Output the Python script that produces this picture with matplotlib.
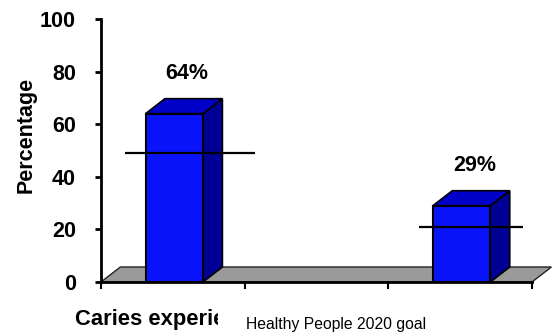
import matplotlib
matplotlib.use("Agg")
import matplotlib.pyplot as plt
from matplotlib.patches import Polygon
from matplotlib.transforms import Bbox

plt.rcParams["font.family"] = ["Liberation Sans", "DejaVu Sans"]

# chart data
categories = ["Caries experience", "Healthy People 2020 goal"]
bar_pos = [0.51, 2.51]
values = [64, 29]
goals = [49, 21]
goal_span = [(-0.34, 0.56), (-0.30, 0.43)]
yticks = [0, 20, 40, 60, 80, 100]

FRONT = "#0A14FA"
TOP = "#0000C8"
SIDE = "#000096"
FLOOR = "#9A9A9A"
W = 0.40      # bar width (data units)
DX = 0.135    # depth offset, x
DY = 5.7      # depth offset, y

fig = plt.figure(figsize=(5.54, 3.33), dpi=100)
ax = fig.add_axes([0.1823, 0.1532, 0.7780, 0.7898])
ax.set_xlim(0, 3)
ax.set_ylim(0, 100)

# floor
floor = Polygon([(0, 0), (3, 0), (3 + DX, DY), (DX, DY)], closed=True,
                facecolor=FLOOR, edgecolor="#222222", lw=1.0, zorder=1, clip_on=False)
ax.add_patch(floor)

for x, v in zip(bar_pos, values):
    x0 = x - W / 2
    side = Polygon([(x0 + W, 0), (x0 + W + DX, DY), (x0 + W + DX, v + DY), (x0 + W, v)],
                   closed=True, facecolor=SIDE, edgecolor="black", lw=1.2, zorder=2,
                   clip_on=False)
    top = Polygon([(x0, v), (x0 + W, v), (x0 + W + DX, v + DY), (x0 + DX, v + DY)],
                  closed=True, facecolor=TOP, edgecolor="black", lw=1.2, zorder=2,
                  clip_on=False)
    ax.add_patch(side)
    ax.add_patch(top)

ax.bar(bar_pos, values, width=W, color=FRONT, edgecolor="black", lw=1.5, zorder=3)

# goal markers
for x, g, (a, b) in zip(bar_pos, goals, goal_span):
    ax.plot([x + a, x + b], [g, g], color="black", lw=1.6, zorder=4,
            solid_capstyle="butt", clip_on=False)

for x, v in zip(bar_pos, values):
    ax.text(x + 0.09, v + DY + 9.5, f"{v}%", ha="center", va="center",
            fontsize=15.5, fontweight="bold", zorder=5)

# axes styling
for s in ["top", "right"]:
    ax.spines[s].set_visible(False)
ax.spines["left"].set_linewidth(2)
ax.spines["bottom"].set_linewidth(2)
ax.set_yticks(yticks)
ax.set_yticklabels([str(t) for t in yticks], fontsize=15.5, fontweight="bold")
ax.set_xticks([0, 1, 2, 3])
ax.set_xticklabels([])
ax.tick_params(axis="y", length=4, width=2, pad=14)
ax.tick_params(axis="x", length=5, width=1.5)
ax.set_ylabel("Percentage", fontsize=15.5, fontweight="bold")
ax.yaxis.set_label_coords(-0.15, 0.56)

# category labels (first one is cut off at its slot)
lab1 = ax.text(-0.18, -0.165, categories[0], transform=ax.get_xaxis_transform(),
               ha="left", va="baseline", fontsize=15.8, fontweight="bold", clip_on=True)
lab1.set_clip_box(Bbox.from_extents(0, 0, 218, 333))
ax.text(1.01, -0.18, categories[1], transform=ax.get_xaxis_transform(),
        ha="left", va="baseline", fontsize=11.3)

fig.savefig("out.png", dpi=100)
